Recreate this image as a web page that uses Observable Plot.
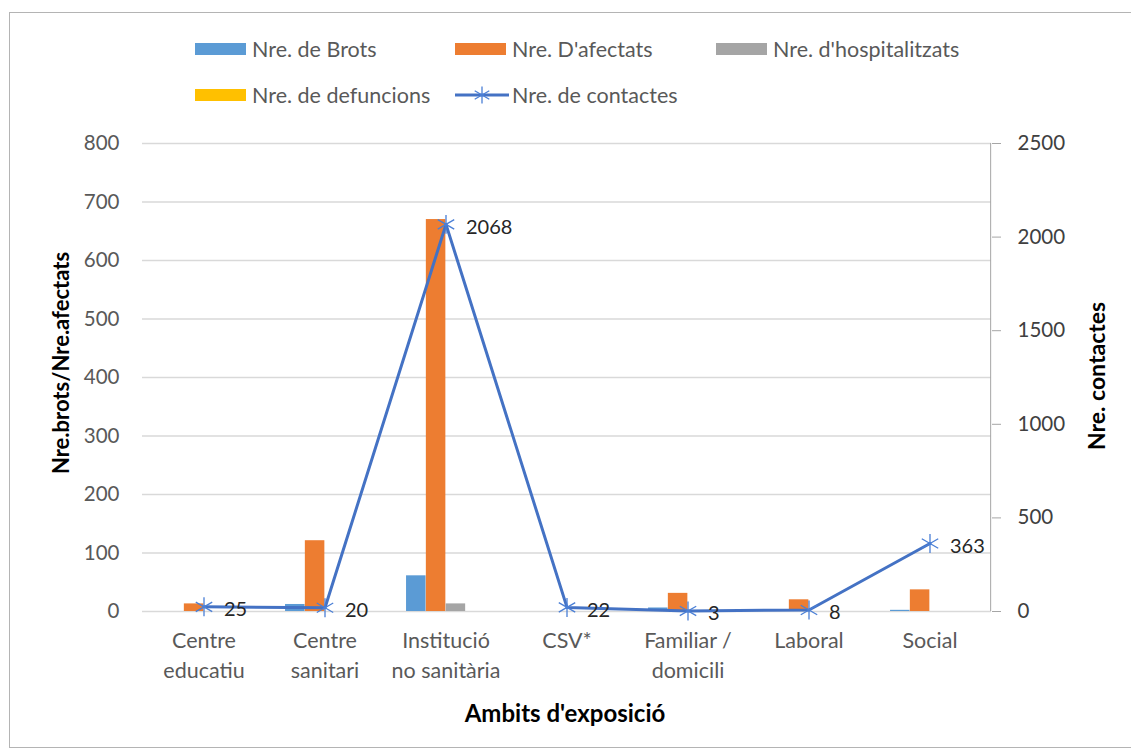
<!DOCTYPE html>
<html>
<head>
<meta charset="utf-8">
<script src="https://cdn.jsdelivr.net/npm/d3@7"></script>
<script src="https://cdn.jsdelivr.net/npm/@observablehq/plot@0.6"></script>
<style>
  html, body { margin: 0; padding: 0; background: #fff; }
  body { width: 1131px; height: 751px; position: relative; overflow: hidden; font-family: Lato, "Open Sans", sans-serif; }
  #border { position: absolute; left: 9px; top: 12px; width: 1140px; height: 736px; border: 1px solid #b4b4b4; box-sizing: border-box; }
  #chart { position: absolute; left: 0; top: 0; }
  .leg { position: absolute; font-size: 21.5px; color: #595959; white-space: nowrap; line-height: 24px; }
  .sw { position: absolute; width: 51px; height: 12px; }
  .title { position: absolute; font-weight: bold; color: #000; white-space: nowrap; }
</style>
</head>
<body>
<div id="border"></div>
<div id="chart"></div>
<div id="legend"></div>
<div class="title" id="xt" style="left:565px; top:712px; font-size:24px; transform:translate(-50%,-50%);">Ambits d'exposició</div>
<div class="title" id="ylt" style="left:60px; top:363px; font-size:22px; transform:translate(-50%,-50%) rotate(-90deg);">Nre.brots/Nre.afectats</div>
<div class="title" id="yrt" style="left:1096px; top:376px; font-size:23px; transform:translate(-50%,-50%) rotate(-90deg);">Nre. contactes</div>
<script>
// ---- data ----
const categories = ["Centre educatiu", "Centre sanitari", "Institució no sanitària", "CSV*", "Familiar / domicili", "Laboral", "Social"];
const categoryLabels = ["Centre\neducatiu", "Centre\nsanitari", "Institució\nno sanitària", "CSV*", "Familiar /\ndomicili", "Laboral", "Social"];
const brots = [0, 12, 61, 0, 6, 0, 2];
const afectats = [13, 121, 670, 0, 31, 20, 37];
const hospitalitzats = [0, 0, 13, 0, 0, 0, 0];
const defuncions = [0, 0, 0, 0, 0, 0, 0];
const contactes = [25, 20, 2068, 22, 3, 8, 363];
const leftTicks = [0, 100, 200, 300, 400, 500, 600, 700, 800];
const rightTicks = [0, 500, 1000, 1500, 2000, 2500];
const seriesNames = ["Nre. de Brots", "Nre. D'afectats", "Nre. d'hospitalitzats", "Nre. de defuncions"];
const seriesColors = ["#5B9BD5", "#ED7D31", "#A5A5A5", "#FFC000"];
const lineName = "Nre. de contactes";
const lineColor = "#4472C4";

const leftMax = 800, rightMax = 2500;
const seriesValues = [brots, afectats, hospitalitzats, defuncions];

const W = 1131, H = 751;
const mL = 142, mR = W - 991, mT = 143, mB = H - 611;
const bandW = (W - mL - mR) / categories.length;
const barW = 19.8;
const inset = (bandW - barW) / 2;

const barMarks = seriesValues.map((vals, s) =>
  Plot.barY(categories.map((c, i) => ({cat: c, v: vals[i]})), {
    x: "cat", y: "v", fill: seriesColors[s],
    insetLeft: inset, insetRight: inset, dx: (s - 1.5) * barW
  })
);

const lineData = categories.map((c, i) => ({cat: c, v: contactes[i] * leftMax / rightMax, label: contactes[i]}));
const labelOf = new Map(categories.map((c, i) => [c, categoryLabels[i]]));

const plot = Plot.plot({
  width: W, height: H,
  marginLeft: mL, marginRight: mR, marginTop: mT, marginBottom: mB,
  style: {fontFamily: "Lato, 'Open Sans', sans-serif", background: "transparent", overflow: "visible"},
  x: {type: "band", domain: categories, padding: 0},
  y: {domain: [0, leftMax]},
  marks: [
    Plot.gridY(leftTicks, {stroke: "#d9d9d9", strokeOpacity: 1, strokeWidth: 1.3}),
    ...barMarks,
    Plot.axisY(leftTicks, {anchor: "left", tickSize: 0, tickPadding: 23, fontSize: 20.5, fill: "#595959", label: null}),
    Plot.axisY(rightTicks.map(v => v * leftMax / rightMax), {anchor: "right", tickSize: 9, tickPadding: 17, fontSize: 20.5, fill: "#404040", stroke: "#a6a6a6", tickFormat: (d, i) => String(rightTicks[i]), label: null}),
    Plot.ruleX([categories[categories.length - 1]], {dx: bandW / 2, y1: 0, y2: leftMax, stroke: "#a6a6a6"}),
    Plot.axisX({anchor: "bottom", tickSize: 0, tickPadding: 15, fontSize: 21.5, fill: "#595959", lineHeight: 1.4, tickFormat: d => labelOf.get(d), label: null}),
    Plot.line(lineData, {x: "cat", y: "v", stroke: lineColor, strokeWidth: 3}),
    Plot.dot(lineData, {x: "cat", y: "v", symbol: "asterisk", r: 9, stroke: "#4a7fd6", strokeWidth: 1.3}),
    Plot.text(lineData, {x: "cat", y: "v", text: d => String(d.label), textAnchor: "start", dx: 20, dy: 3, fontSize: 20, fill: "#262626"})
  ]
});
document.getElementById("chart").appendChild(plot);

// legend
const legend = document.getElementById("legend");
const legItems = [
  {name: seriesNames[0], color: seriesColors[0], x: 195, y: 49, type: "bar"},
  {name: seriesNames[1], color: seriesColors[1], x: 455, y: 49, type: "bar"},
  {name: seriesNames[2], color: seriesColors[2], x: 716, y: 49, type: "bar"},
  {name: seriesNames[3], color: seriesColors[3], x: 195, y: 95, type: "bar"},
  {name: lineName, color: lineColor, x: 455, y: 95, type: "line"}
];
for (const it of legItems) {
  if (it.type === "bar") {
    const sw = document.createElement("div");
    sw.className = "sw";
    sw.style.left = it.x + "px"; sw.style.top = (it.y - 6) + "px"; sw.style.background = it.color;
    legend.appendChild(sw);
  } else {
    const ns = "http://www.w3.org/2000/svg";
    const svg = document.createElementNS(ns, "svg");
    svg.setAttribute("width", 54); svg.setAttribute("height", 20);
    svg.style.position = "absolute"; svg.style.left = it.x + "px"; svg.style.top = (it.y - 10) + "px";
    const l = document.createElementNS(ns, "line");
    l.setAttribute("x1", 0); l.setAttribute("x2", 54); l.setAttribute("y1", 10); l.setAttribute("y2", 10);
    l.setAttribute("stroke", it.color); l.setAttribute("stroke-width", 3);
    svg.appendChild(l);
    const sym = d3.symbol(d3.symbolAsterisk, 200)();
    const p = document.createElementNS(ns, "path");
    p.setAttribute("d", sym); p.setAttribute("transform", "translate(27,10)");
    p.setAttribute("stroke", "#4a7fd6"); p.setAttribute("stroke-width", 1.3); p.setAttribute("fill", "none");
    svg.appendChild(p);
    legend.appendChild(svg);
  }
  const t = document.createElement("div");
  t.className = "leg";
  t.textContent = it.name;
  t.style.left = (it.x + 57) + "px"; t.style.top = (it.y - 12) + "px";
  legend.appendChild(t);
}
</script>
</body>
</html>
